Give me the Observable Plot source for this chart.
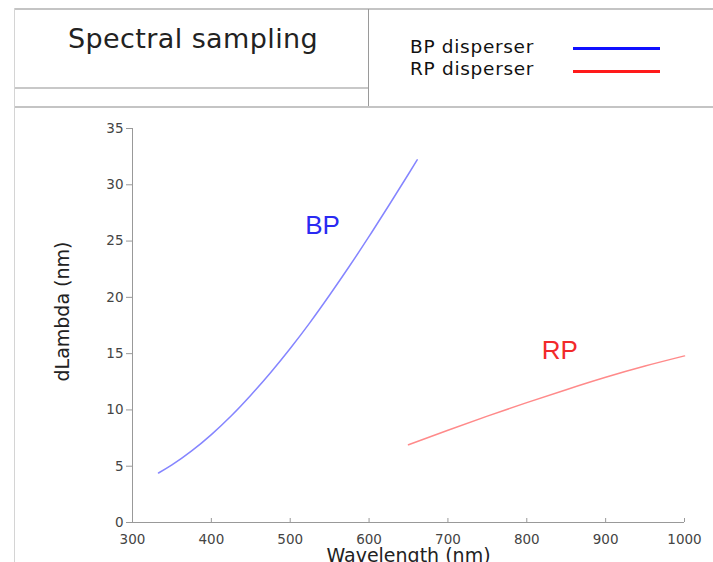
<!DOCTYPE html>
<html><head><meta charset="utf-8">
<script src="https://cdn.jsdelivr.net/npm/d3@7"></script>
<script src="https://cdn.jsdelivr.net/npm/@observablehq/plot@0.6"></script>
<style>
body{margin:0;background:#fff;}
#wrap{position:relative;width:713px;height:562px;overflow:hidden;background:#fff;font-family:"DejaVu Sans",Verdana,sans-serif;}
.ln{position:absolute;z-index:2;}
#title{position:absolute;left:68px;top:23px;font-size:27px;letter-spacing:0.4px;color:#222;white-space:nowrap;}
.leg{position:absolute;left:410px;font-size:18.5px;letter-spacing:0.7px;color:#111;white-space:nowrap;line-height:20px;}
.sw{position:absolute;left:573px;width:87px;height:3px;}
#chart{position:absolute;left:0;top:109px;}
</style></head><body>
<div id="wrap">
  <div class="ln" style="left:15px;right:0;top:8px;height:2px;background:#c4c4c4"></div>
  <div class="ln" style="left:14px;top:8px;bottom:0;width:1px;background:#d4d4d4"></div>
  <div class="ln" style="left:368px;top:9px;height:98px;width:1px;background:#9a9a9a"></div>
  <div class="ln" style="left:15px;width:353px;top:87px;height:2px;background:#c8c8c8"></div>
  <div class="ln" style="left:15px;right:0;top:106px;height:2px;background:#c4c4c4"></div>
  <div id="title">Spectral sampling</div>
  <div class="leg" style="top:37px">BP disperser</div>
  <div class="leg" style="top:59px">RP disperser</div>
  <div class="sw" style="top:47px;background:#1010ff"></div>
  <div class="sw" style="top:70px;background:#ff1a1a"></div>
  <div id="chart"></div>
</div>
<script>
const bpWavelength = [333, 350, 375, 400, 425, 450, 475, 500, 525, 550, 575, 600, 625, 650, 661];
const bpDlambda    = [4.4, 5.11, 6.36, 7.81, 9.46, 11.31, 13.31, 15.46, 17.76, 20.21, 22.76, 25.41, 28.16, 30.96, 32.21];
const rpWavelength = [650, 700, 750, 800, 850, 900, 950, 1000];
const rpDlambda    = [6.9, 8.2, 9.45, 10.65, 11.8, 12.9, 13.9, 14.8];
const xTicks = [300, 400, 500, 600, 700, 800, 900, 1000];
const yTicks = [0, 5, 10, 15, 20, 25, 30, 35];
const labelNames = ["BP", "RP"];
const labelWavelength = [541, 842];
const labelDlambda = [26.4, 15.3];

const bp = bpWavelength.map((x, i) => ({x, y: bpDlambda[i]}));
const rp = rpWavelength.map((x, i) => ({x, y: rpDlambda[i]}));

const chart = Plot.plot({
  width: 713, height: 453,
  marginLeft: 132, marginRight: 29, marginTop: 19, marginBottom: 40,
  style: {background: "transparent", fontFamily: "'DejaVu Sans', Verdana, sans-serif", fontSize: "13.5px", color: "#444"},
  x: {domain: [300, 1000]},
  y: {domain: [0, 35]},
  marks: [
    Plot.ruleY([0], {stroke: "#999"}),
    Plot.ruleX([300], {stroke: "#999"}),
    Plot.axisX({ticks: xTicks, tickSize: -4, tickPadding: 16, label: null, stroke: "#999", fill: "#444", tickFormat: d => String(d)}),
    Plot.axisY({ticks: yTicks, tickSize: 6, tickPadding: 3, label: null, stroke: "#999", fill: "#444", tickFormat: d => String(d)}),
    Plot.line(bp, {x: "x", y: "y", stroke: "#8585ff", strokeWidth: 1.5, curve: "natural"}),
    Plot.line(rp, {x: "x", y: "y", stroke: "#ff8a8a", strokeWidth: 1.5, curve: "natural"}),
    Plot.text(labelNames, {x: labelWavelength, y: labelDlambda, text: d => d,
      fill: d => d === "BP" ? "#2a2af2" : "#f22a2a", fontSize: 26,
      fontFamily: "'Liberation Sans', Arial, sans-serif"}),
    Plot.text(["Wavelength (nm)"], {frameAnchor: "bottom", dy: 33, lineAnchor: "middle", textAnchor: "middle", text: d => d, fontSize: 19, fill: "#222"}),
    Plot.text(["dLambda (nm)"], {frameAnchor: "left", dx: -70, dy: -14, rotate: -90, textAnchor: "middle", lineAnchor: "middle", text: d => d, fontSize: 19, fill: "#222"})
  ]
});
document.getElementById("chart").appendChild(chart);
</script>
</body></html>
